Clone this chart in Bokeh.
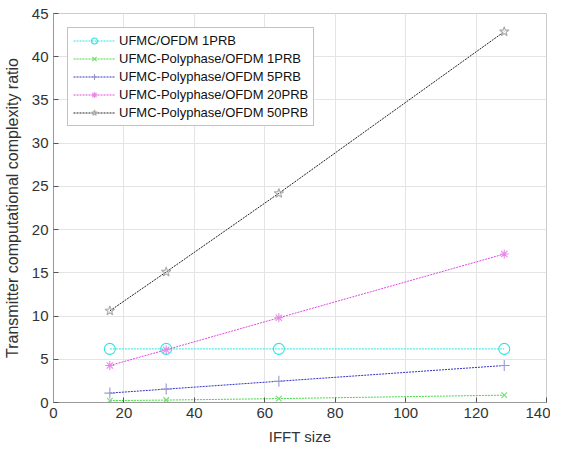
from bokeh.plotting import figure
from bokeh.models import Range1d, FixedTicker
from bokeh.embed import file_html
from bokeh.resources import INLINE

ifft_size = [16, 32, 64, 128]
ufmc_1prb = [6.2, 6.2, 6.2, 6.2]
poly_1prb = [0.22, 0.28, 0.45, 0.85]
poly_5prb = [1.09, 1.55, 2.46, 4.28]
poly_20prb = [4.28, 6.1, 9.8, 17.18]
poly_50prb = [10.6, 15.1, 24.2, 42.9]

labels = ["UFMC/OFDM 1PRB", "UFMC-Polyphase/OFDM 1PRB", "UFMC-Polyphase/OFDM 5PRB",
          "UFMC-Polyphase/OFDM 20PRB", "UFMC-Polyphase/OFDM 50PRB"]
series = [ufmc_1prb, poly_1prb, poly_5prb, poly_20prb, poly_50prb]
colors = ["#2ee3e3", "#40d840", "#3232c8", "#e048e0", "#222222"]
marker_colors = ["#2ee3e3", "#70e070", "#9a9ad0", "#e888e8", "#aaaaaa"]
markers = ["circle", "x", "cross", "asterisk", "star"]
sizes = [11, 8, 11, 9, 10]

FONT = "Liberation Sans"

p = figure(width=550, height=447, output_backend="svg", toolbar_location=None,
           x_range=Range1d(0, 140), y_range=Range1d(0, 45),
           min_border_left=45, min_border_right=4, min_border_top=13, min_border_bottom=41)

for ys, lab, c, mc, m, s in zip(series, labels, colors, marker_colors, markers, sizes):
    p.line(ifft_size, ys, line_color=c, line_width=1, line_dash="2 1", legend_label=lab)
    p.scatter(ifft_size, ys, marker=m, size=s, line_color=mc, fill_color=None,
              line_width=1.1, legend_label=lab)

p.xaxis.ticker = FixedTicker(ticks=list(range(0, 141, 20)))
p.yaxis.ticker = FixedTicker(ticks=list(range(0, 46, 5)))
p.xaxis.axis_label = "IFFT size"
p.yaxis.axis_label = "Transmitter computational complexity ratio"
for ax in (p.xaxis[0], p.yaxis[0]):
    ax.axis_label_text_font = FONT
    ax.axis_label_text_font_style = "normal"
    ax.axis_label_text_font_size = "15px"
    ax.axis_label_text_color = "#333333"
    ax.major_label_text_font = FONT
    ax.major_label_text_font_size = "15px"
    ax.major_label_text_color = "#333333"
    ax.axis_line_color = "#999999"
    ax.major_tick_line_color = "#555555"
    ax.major_tick_in = 5
    ax.major_tick_out = 0
    ax.minor_tick_line_color = None
p.yaxis.axis_label_text_font_size = "16px"
p.xaxis.axis_label_standoff = 7
p.yaxis.axis_label_standoff = 8

p.grid.grid_line_color = "#e4e4e4"
p.outline_line_color = "#cccccc"
p.background_fill_color = "white"

lg = p.legend[0]
lg.location = "top_left"
lg.margin = 14
lg.label_text_font = FONT
lg.label_text_font_size = "13px"
lg.label_text_color = "#111111"
lg.border_line_color = "#888888"
lg.glyph_width = 42
lg.glyph_height = 15
lg.label_height = 15
lg.spacing = 3
lg.padding = 5
lg.label_standoff = 4

open("out.html", "w").write(file_html(p, INLINE))
